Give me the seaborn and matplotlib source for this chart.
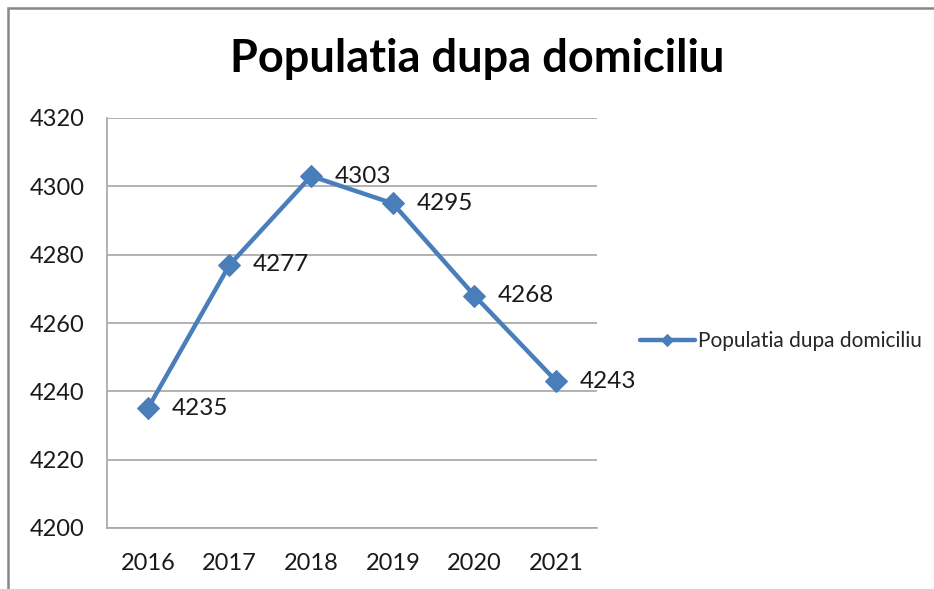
import matplotlib
matplotlib.use("Agg")
import matplotlib.pyplot as plt
import matplotlib.patches as patches
import pandas as pd
import seaborn as sns

# data
years = ["2016", "2017", "2018", "2019", "2020", "2021"]
population = [4235, 4277, 4303, 4295, 4268, 4243]
series_name = "Populatia dupa domiciliu"

df = pd.DataFrame({"an": years, "populatie": population})

sns.set_style("white")
plt.rcParams["font.family"] = ["Lato", "DejaVu Sans"]

blue = "#4A7EBB"
grid_gray = "#A6A6A6"

fig = plt.figure(figsize=(9.34, 5.89), dpi=100)
ax = fig.add_axes([107 / 934, 1 - 528 / 589, 490 / 934, 410 / 589])

sns.lineplot(data=df, x="an", y="populatie", ax=ax, color=blue, linewidth=3.2,
             marker="D", markersize=11.5, markeredgecolor=blue, label=series_name,
             sort=False)

for i, v in enumerate(population):
    ax.annotate(str(v), (i, v), xytext=(17, 0), textcoords="offset points",
                ha="left", va="center", fontsize=17.5, color="#1a1a1a")

ax.set_xlim(-0.5, 5.5)
ax.set_ylim(4200, 4320)
ax.set_yticks(range(4200, 4321, 20))
ax.set_xlabel("")
ax.set_ylabel("")
ax.yaxis.grid(True, color=grid_gray, linewidth=1.2)
ax.set_axisbelow(True)
for side in ["top", "right"]:
    ax.spines[side].set_visible(False)
for side in ["left", "bottom"]:
    ax.spines[side].set_color(grid_gray)
    ax.spines[side].set_linewidth(1.2)
ax.tick_params(axis="y", length=0, pad=16, labelsize=17, labelcolor="#1a1a1a")
ax.tick_params(axis="x", length=0, pad=18, labelsize=17, labelcolor="#1a1a1a")

# legend outside, on the right
handles, labels = ax.get_legend_handles_labels()
leg = ax.legend(handles, labels, loc="center left", bbox_to_anchor=(632 / 934, 1 - 341 / 589),
                bbox_transform=fig.transFigure, frameon=False, fontsize=15,
                handlelength=2.6, handletextpad=0.15, borderaxespad=0)
for h in leg.legend_handles:
    h.set_markersize(6)

fig.text(477 / 934, 1 - 59 / 589, "Populatia dupa domiciliu", ha="center", va="center",
         fontsize=32.5, fontweight="bold", color="black")

# chart frame (only top/left edges visible in the original crop)
frame = patches.Rectangle((8 / 934, -0.1), 1.2, 1.1 - 8 / 589, transform=fig.transFigure,
                          fill=False, edgecolor="#888888", linewidth=1.8, clip_on=False)
fig.patches.append(frame)

fig.savefig("out.png", dpi=100)
